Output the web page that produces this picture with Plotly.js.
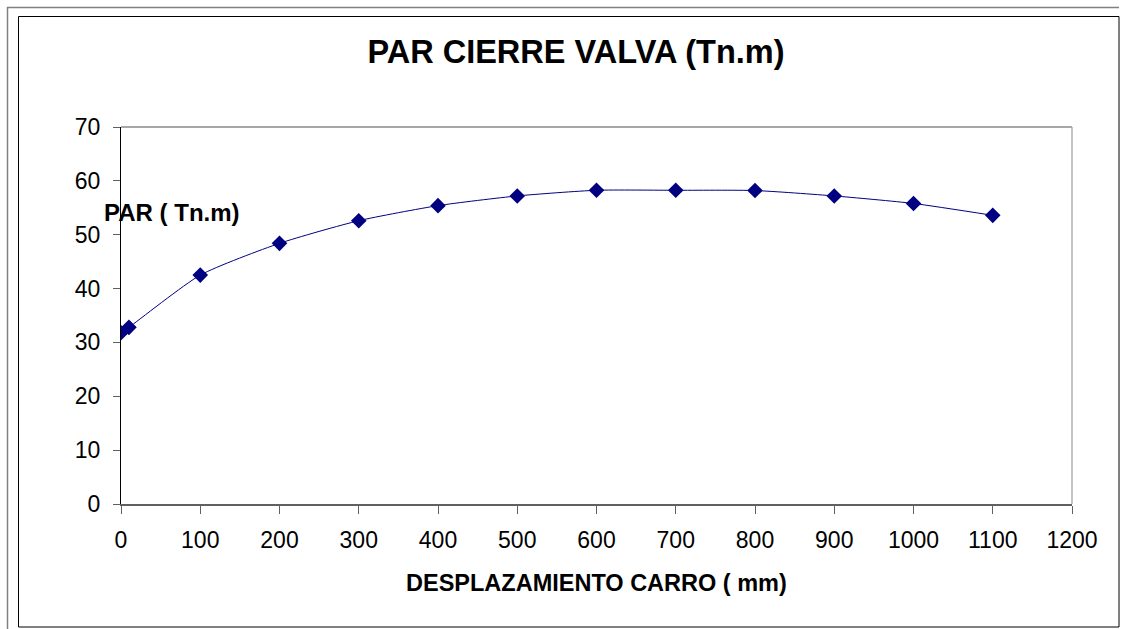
<!DOCTYPE html>
<html>
<head>
<meta charset="utf-8">
<script src="https://cdn.plot.ly/plotly-3.0.1.min.js"></script>
<style>
  html, body { margin: 0; padding: 0; background: #ffffff; }
  #chart { width: 1121px; height: 629px; }
</style>
</head>
<body>
<div id="chart"></div>
<script>
// Data
const desplazamiento = [0, 10, 100, 200, 300, 400, 500, 600, 700, 800, 900, 1000, 1100];
const par = [31.8, 32.8, 42.5, 48.4, 52.6, 55.4, 57.2, 58.25, 58.25, 58.2, 57.2, 55.8, 53.6];
const xTicks = [0, 100, 200, 300, 400, 500, 600, 700, 800, 900, 1000, 1100, 1200];
const yTicks = [0, 10, 20, 30, 40, 50, 60, 70];

const chartTitle = 'PAR CIERRE VALVA (Tn.m)';
const xTitle = 'DESPLAZAMIENTO CARRO ( mm)';
const yTitle = 'PAR ( Tn.m)';

// Plot-area geometry in pixels
const W = 1121, H = 629;
const L = 121, R = 1072, T = 127, B = 504;
const px = v => (v - L) / (R - L);
const py = v => (B - v) / (B - T);

const font = 'Arial, "Liberation Sans", sans-serif';

const trace = {
  x: desplazamiento,
  y: par,
  type: 'scatter',
  mode: 'lines+markers',
  line: { color: '#000080', width: 1, shape: 'spline', smoothing: 0.6 },
  marker: { symbol: 'diamond', size: 12, color: '#000080' },
  hoverinfo: 'x+y',
  showlegend: false
};

const layout = {
  width: W, height: H,
  margin: { l: L, r: W - R, t: T, b: H - B },
  paper_bgcolor: '#ffffff',
  plot_bgcolor: '#ffffff',
  font: { family: font, color: '#000000', size: 23 },
  title: {
    text: '<b>' + chartTitle + '</b>',
    font: { family: font, size: 32.5, color: '#000000' },
    x: 576 / W, xref: 'container', xanchor: 'center',
    y: 1 - 52 / H, yref: 'container', yanchor: 'middle'
  },
  xaxis: {
    range: [0, 1200],
    tickvals: xTicks,
    ticktext: xTicks.map(String),
    showgrid: false, zeroline: false,
    showline: true, linecolor: '#606060', linewidth: 2, mirror: false,
    ticks: 'outside', ticklen: 8, tickcolor: '#606060', tickwidth: 1,
    ticklabelstandoff: 6,
    tickfont: { family: font, size: 23, color: '#000000' },
    fixedrange: true
  },
  yaxis: {
    range: [0, 70],
    tickvals: yTicks,
    ticktext: yTicks.map(String),
    showgrid: false, zeroline: false,
    showline: true, linecolor: '#000000', linewidth: 1,
    ticks: 'outside', ticklen: 7, tickcolor: '#606060', tickwidth: 1,
    ticklabelstandoff: 8,
    tickfont: { family: font, size: 23, color: '#000000' },
    fixedrange: true
  },
  annotations: [
    {
      text: '<b>' + yTitle + '</b>',
      xref: 'paper', yref: 'paper',
      x: px(102), y: py(212), xanchor: 'left', yanchor: 'middle',
      showarrow: false,
      font: { family: font, size: 24, color: '#000000' }
    },
    {
      text: '<b>' + xTitle + '</b>',
      xref: 'paper', yref: 'paper',
      x: px(596), y: py(583), xanchor: 'center', yanchor: 'middle',
      showarrow: false,
      font: { family: font, size: 23.5, color: '#000000' }
    }
  ],
  shapes: [
    // plot-area top and right edges
    { type: 'line', xref: 'paper', yref: 'paper', x0: 0, x1: 1, y0: 1, y1: 1,
      line: { color: '#8a8a8a', width: 1.5 }, layer: 'below' },
    { type: 'line', xref: 'paper', yref: 'paper', x0: 1, x1: 1, y0: 0, y1: 1,
      line: { color: '#b0b0b0', width: 1.5 }, layer: 'below' },
    // outer gray frame (top and left)
    { type: 'line', xref: 'paper', yref: 'paper', x0: px(7), x1: px(1119), y0: py(7.5), y1: py(7.5),
      line: { color: '#808080', width: 1.5 } },
    { type: 'line', xref: 'paper', yref: 'paper', x0: px(7.5), x1: px(7.5), y0: py(7), y1: py(629),
      line: { color: '#808080', width: 1.5 } },
    // inner black frame
    { type: 'rect', xref: 'paper', yref: 'paper', x0: px(18.5), x1: px(1119), y0: py(16.5), y1: py(627),
      line: { color: '#000000', width: 1 } }
  ]
};

Plotly.newPlot('chart', [trace], layout, { displayModeBar: false, staticPlot: true });
</script>
</body>
</html>
